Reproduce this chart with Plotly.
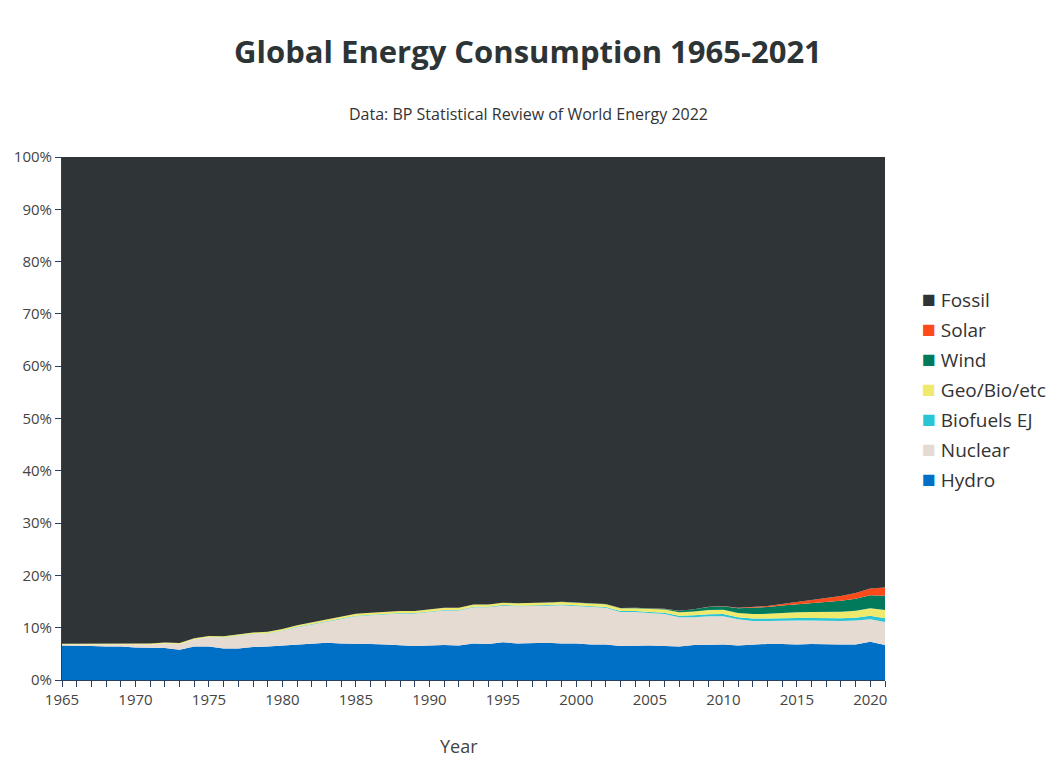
import plotly.graph_objects as go

# shares of global primary energy, percent
years = list(range(1965, 2022))

hydro = [6.6, 6.6, 6.5, 6.4, 6.4, 6.2, 6.2, 6.1, 5.8, 6.4,
         6.4, 6.0, 6.0, 6.3, 6.4, 6.6, 6.8, 7.0, 7.1, 7.0,
         7.0, 6.9, 6.8, 6.7, 6.5, 6.6, 6.7, 6.6, 7.0, 6.9,
         7.2, 7.0, 7.1, 7.1, 7.0, 7.0, 6.8, 6.8, 6.5, 6.6,
         6.6, 6.5, 6.4, 6.7, 6.8, 6.8, 6.6, 6.8, 6.9, 6.9,
         6.8, 6.9, 6.8, 6.8, 6.8, 7.3, 6.7]

nuclear = [0.2, 0.2, 0.3, 0.3, 0.3, 0.5, 0.6, 0.9, 1.1, 1.4,
           1.8, 2.1, 2.4, 2.5, 2.5, 2.8, 3.3, 3.6, 4.0, 4.6,
           5.2, 5.5, 5.8, 6.0, 6.2, 6.4, 6.6, 6.7, 6.9, 7.0,
           7.0, 7.1, 7.0, 7.1, 7.3, 7.1, 7.2, 7.0, 6.5, 6.4,
           6.2, 6.1, 5.6, 5.3, 5.4, 5.4, 5.0, 4.5, 4.4, 4.5,
           4.6, 4.5, 4.5, 4.5, 4.6, 4.3, 4.4]

biofuels = [0.0, 0.0, 0.0, 0.0, 0.0, 0.0, 0.0, 0.0, 0.0, 0.0,
            0.0, 0.02, 0.03, 0.04, 0.05, 0.06, 0.07, 0.08, 0.1, 0.1,
            0.1, 0.1, 0.1, 0.1, 0.1, 0.1, 0.1, 0.1, 0.1, 0.1,
            0.12, 0.12, 0.12, 0.12, 0.12, 0.12, 0.13, 0.15, 0.18, 0.2,
            0.22, 0.26, 0.3, 0.36, 0.38, 0.4, 0.42, 0.45, 0.45, 0.45,
            0.45, 0.47, 0.5, 0.5, 0.52, 0.7, 0.7]

geo_bio = [0.15, 0.15, 0.15, 0.15, 0.16, 0.17, 0.17, 0.18, 0.19, 0.2,
           0.22, 0.23, 0.24, 0.25, 0.26, 0.27, 0.28, 0.3, 0.32, 0.34,
           0.35, 0.36, 0.37, 0.38, 0.39, 0.4, 0.41, 0.42, 0.43, 0.44,
           0.45, 0.46, 0.47, 0.48, 0.5, 0.5, 0.5, 0.52, 0.52, 0.53,
           0.55, 0.6, 0.65, 0.72, 0.8, 0.85, 0.8, 0.85, 0.9, 1.0,
           1.1, 1.15, 1.2, 1.25, 1.3, 1.4, 1.6]

# 1965-1994 zero, then 1995-2021
wind = [0.0] * 30 + [0.01, 0.01, 0.02, 0.02, 0.03, 0.03, 0.04, 0.05, 0.06, 0.08,
                     0.1, 0.13, 0.3, 0.45, 0.6, 0.65, 0.9, 1.2, 1.3, 1.4,
                     1.5, 1.7, 1.9, 2.1, 2.3, 2.5, 2.7]

# 1965-2004 zero, then 2005-2021
solar = [0.0] * 40 + [0.0, 0.01, 0.01, 0.02, 0.03, 0.05, 0.08, 0.12, 0.2, 0.3,
                      0.45, 0.6, 0.75, 0.9, 1.1, 1.3, 1.6]

fossil = [round(100 - h - n - b - g - w - s, 2)
          for h, n, b, g, w, s in zip(hydro, nuclear, biofuels, geo_bio, wind, solar)]

series = [
    ("Hydro", hydro, "#0070c6"),
    ("Nuclear", nuclear, "#e6dbd3"),
    ("Biofuels EJ", biofuels, "#2ac4d4"),
    ("Geo/Bio/etc", geo_bio, "#efea6b"),
    ("Wind", wind, "#017a5c"),
    ("Solar", solar, "#fc4a1a"),
    ("Fossil", fossil, "#2f3537"),
]

fig = go.Figure()
for name, vals, col in series:
    fig.add_trace(go.Scatter(
        x=years, y=vals, name=name, showlegend=False,
        mode="lines", stackgroup="one", groupnorm="percent",
        line=dict(width=0, color=col), fillcolor=col,
    ))

annots = [
    dict(text="Data: BP Statistical Review of World Energy 2022",
         xref="paper", yref="paper", x=0.567, y=1.082,
         xanchor="center", yanchor="middle", showarrow=False,
         font=dict(size=16, color="#333")),
    dict(text="Year", xref="paper", yref="paper", x=0.482, y=-0.127,
         xanchor="center", yanchor="middle", showarrow=False,
         font=dict(size=18, color="#444")),
]

# legend drawn as text, Fossil on top
for i, (name, vals, col) in enumerate(reversed(series)):
    ypx = 290 + 30 * i
    annots.append(dict(
        text=f"<span style='color:{col};font-size:23px'>■</span> {name}",
        xref="paper", yref="paper", x=1.042, y=(672 - ypx) / 523,
        xanchor="left", yanchor="middle", showarrow=False,
        font=dict(size=19, color="#333"),
    ))

fig.update_layout(
    width=1059, height=780,
    template="simple_white",
    showlegend=False,
    font=dict(family="Open Sans", color="#444"),
    title=dict(
        text="<b>Global Energy Consumption 1965-2021</b>",
        x=0.491, xanchor="center", y=1 - 44 / 780, yanchor="middle",
        font=dict(size=31, color="#2d3436"),
    ),
    annotations=annots,
    margin=dict(l=54, r=182, t=149, b=108),
    xaxis=dict(
        range=[1965, 2021], dtick=5, tick0=1965,
        ticks="outside", ticklen=6, linecolor="#2a3f5f", tickcolor="#2a3f5f",
        minor=dict(dtick=1, ticks="outside", ticklen=6, tickcolor="#2a3f5f"),
        tickfont=dict(size=15), showgrid=False, automargin=False,
    ),
    yaxis=dict(
        range=[0, 100], dtick=10, ticksuffix="%",
        ticks="outside", ticklen=6, linecolor="#2a3f5f", tickcolor="#2a3f5f",
        tickfont=dict(size=15), showgrid=False, automargin=False,
    ),
)

fig.write_html("out.html")
